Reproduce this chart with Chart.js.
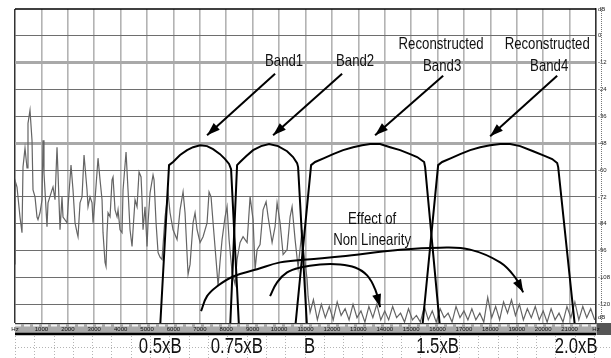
<!DOCTYPE html>
<html>
<head>
<meta charset="utf-8">
<script src="https://cdn.jsdelivr.net/npm/chart.js@4.4.1/dist/chart.umd.min.js"></script>
<style>
body { margin:0; background:#fff; }
canvas { display:block; }
</style>
</head>
<body>
<canvas id="spectrum" width="611" height="358"></canvas>
<script>
// measured spectrum (Hz / dB), low part of the trace
var signalHz = [0, 10, 76, 189, 265, 303, 379, 455, 492, 568, 644, 682, 758, 833, 871, 947, 1023, 1061, 1098, 1212,
	1250, 1402, 1439, 1515, 1591, 1629, 1705, 1780, 1818, 1970, 2008, 2121, 2197, 2273, 2349, 2386, 2462, 2538, 2614, 2727,
	2765, 2841, 2917, 2955, 3030, 3144, 3220, 3296, 3333, 3409, 3447, 3485, 3523, 3599, 3674, 3712, 3788, 3864, 3902, 3977,
	4053, 4091, 4205, 4280, 4356, 4432, 4470, 4545, 4621, 4697, 4773, 4811, 4848, 4924, 5000, 5038, 5114, 5227, 5265, 5341,
	5417, 5492, 5568, 5682, 5795, 5871, 5985, 6136, 6250, 6364, 6439, 6553, 6629, 6705, 6742, 6818, 6894, 7008, 7121, 7273,
	7348, 7424, 7500, 7652, 7689, 7765, 7841, 7955, 8030, 8106, 8220, 8333, 8409, 8523, 8636, 8712, 8788, 8902, 9015, 9091,
	9167, 9280, 9394, 9508, 9583, 9735, 9848, 9924, 10038, 10152, 10303, 10417, 10492, 10606, 10720, 10871, 10909, 11061, 11098, 11174];
var signalDb = [-102, -65, -67.6, -81, -88, -58.7, -50.2, -59.1, -39.1, -33.3, -46.7, -68.9, -72, -81, -82.2, -79.1, -73.3, -46.7, -61.3, -85.3,
	-74.7, -68.9, -67.6, -73.3, -49.8, -61.3, -86.7, -72, -81, -83.6, -76.4, -57.8, -68.9, -83.6, -88, -89.8, -74.7, -72, -53.3, -68.9,
	-76.4, -72, -74.7, -83.6, -73.3, -54.7, -64.4, -73.3, -88, -101.3, -103.1, -88, -79.1, -80.9, -64.4, -63.1, -77.8, -80.9, -77.8, -86.7,
	-88, -68.9, -52, -68.9, -86.7, -94.2, -86.7, -73.3, -76.4, -60.9, -63.1, -73.3, -86.7, -76.4, -94.2, -83.6, -70.2, -62.2, -64.4, -83.6,
	-96.9, -99, -100, -80.9, -70.2, -79.1, -86.7, -91.1, -77.8, -69.8, -79.1, -106.7, -102.2, -89.8, -83.6, -79.1, -86.7, -92.4, -89.8, -83.6,
	-69.8, -72, -83.6, -105.8, -112, -100.9, -91.1, -80.9, -76.4, -91.1, -105.8, -111, -100, -92.4, -89.8, -91.1, -92.4, -72, -82.2, -104.4,
	-95.6, -93.3, -77.8, -74.2, -80.9, -92.4, -85.3, -74.7, -83.6, -97.8, -95.6, -80.9, -76.4, -91.1, -103.6, -86.7, -94.2, -108.9, -116.4, -123.6];

// noise floor above B
var floorHz = [11300, 11450, 11600, 11750, 11900, 12050, 12200, 12350, 12500, 12650, 12800, 12950, 13100, 13250, 13400, 13550, 13700, 13850,
	14000, 14150, 14300, 14450, 14600, 14750, 14900, 15050, 15200, 15350, 15500, 15650, 15800, 15950, 16100, 16250, 16400, 16550, 16700,
	16850, 17000, 17150, 17300, 17450, 17600, 17750, 17900, 18050, 18200, 18350, 18500, 18650, 18800, 18950, 19100, 19250, 19400, 19550,
	19700, 19850, 20000, 20150, 20300, 20450, 20600, 20750, 20900, 21050, 21200, 21350, 21500, 21650, 21800, 21950];
var floorDb = [-118, -127, -120, -126, -121, -127, -119, -125, -122, -127, -120, -126, -123, -128, -121, -126, -120, -127,
	-123, -127, -121, -126, -124, -128, -122, -127, -125, -128, -121, -127, -123, -128, -122, -126, -124, -128, -121,
	-126, -123, -127, -122, -127, -124, -128, -117, -126, -121, -127, -119, -124, -118, -125, -120, -127, -122, -126,
	-121, -127, -123, -128, -122, -127, -124, -128, -121, -126, -119, -127, -121, -126, -122, -127];

// filter band outlines
var band1Hz = [5492, 5833, 5985, 6250, 6515, 6742, 7008, 7273, 7500, 7765, 7955, 8106, 8182, 8485];
var band1Db = [-131, -57.8, -56.4, -53.3, -51.1, -49.8, -48.9, -49.3, -50.7, -52.9, -55.1, -57.3, -59.6, -131];
var band2Hz = [8144, 8409, 8523, 8750, 9015, 9318, 9621, 9962, 10303, 10530, 10682, 10720, 11061];
var band2Db = [-131, -57.8, -56.4, -53.8, -51.1, -49.3, -48.4, -49.3, -51.6, -54.2, -56.9, -58.7, -131];
var band3Hz = [10606, 11212, 11364, 11705, 12045, 12424, 12803, 13144, 13447, 13826, 14205, 14583, 14962, 15227, 15492, 15530, 16098];
var band3Db = [-131, -57.8, -56.4, -54.7, -52.9, -51.1, -49.8, -48.9, -48.4, -48.4, -49.8, -51.1, -52.9, -54.2, -56.4, -58.7, -131];
var band4Hz = [15417, 16023, 16174, 16515, 16856, 17235, 17614, 17992, 18371, 18750, 19129, 19621, 20076, 20341, 20530, 20568, 21212];
var band4Db = [-131, -57.8, -56.4, -54.7, -52.9, -51.1, -49.8, -48.9, -48.4, -48.4, -49.3, -51.6, -53.8, -55.1, -56.9, -58.7, -131];

// pointer arrows to the bands
var pointerFromHz = [9848, 12386, 16212, 20530];
var pointerFromDb = [-16.9, -16.9, -17.8, -17.8];
var pointerToHz = [7273, 9773, 13636, 17992];
var pointerToDb = [-44.4, -44.4, -44.4, -44.9];

// "effect of non linearity" arrows
var curveAHz = [7045, 7273, 7652, 8258, 9167, 10038, 11061, 12311, 14583, 16098, 17235, 18371, 18939, 19242];
var curveADb = [-123.1, -116.4, -112, -107.6, -104.4, -101.3, -100, -98.7, -95.6, -94.7, -95.6, -101.3, -108, -114.7];
var curveBHz = [9659, 9924, 10303, 10795, 11553, 12311, 12879, 13333, 13636, 13826];
var curveBDb = [-116.4, -110.2, -105.8, -103.6, -102.2, -102.2, -103.6, -107.1, -113.3, -121.3];

// annotation texts
var noteText = ['Band1', 'Band2', 'Reconstructed', 'Band3', 'Reconstructed', 'Band4', 'Effect of', 'Non Linearity'];
var noteHz = [10189, 12879, 16136, 16174, 20152, 20227, 13523, 13523];
var noteDb = [-11.6, -11.6, -4, -13.8, -4, -13.8, -82.2, -91.6];

// multiples of B under the ruler
var multipleLabels = ['0.5xB', '0.75xB', 'B', '1.5xB', '2.0xB'];
var multipleHz = [5500, 8400, 11150, 16000, 21250];

// level ruler
var levelTicks = [12, 0, -12, -24, -36, -48, -60, -72, -84, -96, -108, -120, -126];

var FONT = '"Liberation Sans", Arial, sans-serif';

function pairs(xs, ys)
{
	var out = [];
	for (var i = 0; i < xs.length; i++) out.push({ x: xs[i], y: ys[i] });
	return out;
}

var datasets = [];

datasets.push({
	data: pairs(signalHz.concat(floorHz), signalDb.concat(floorDb)),
	borderColor: '#646464', borderWidth: 1.2, order: 10
});

[[band1Hz, band1Db], [band2Hz, band2Db], [band3Hz, band3Db], [band4Hz, band4Db]].forEach(function(b)
{
	datasets.push({ data: pairs(b[0], b[1]), borderColor: '#000', borderWidth: 2, order: 1 });
});

for (var i = 0; i < pointerFromHz.length; i++)
{
	datasets.push({
		data: [{ x: pointerFromHz[i], y: pointerFromDb[i] }, { x: pointerToHz[i], y: pointerToDb[i] }],
		borderColor: '#000', borderWidth: 2, order: 0, arrow: true
	});
}

datasets.push({ data: pairs(curveAHz, curveADb), borderColor: '#000', borderWidth: 2, tension: 0.4, order: 0, arrow: true });
datasets.push({ data: pairs(curveBHz, curveBDb), borderColor: '#000', borderWidth: 2, tension: 0.4, order: 0, arrow: true });

function arrowHead(ctx, tx, ty, fx, fy, len, wid)
{
	var a = Math.atan2(ty - fy, tx - fx);
	var bx = tx - len * Math.cos(a), by = ty - len * Math.sin(a);
	ctx.beginPath();
	ctx.moveTo(tx, ty);
	ctx.lineTo(bx - wid / 2 * Math.sin(a), by + wid / 2 * Math.cos(a));
	ctx.lineTo(bx + wid / 2 * Math.sin(a), by - wid / 2 * Math.cos(a));
	ctx.closePath();
	ctx.fill();
}

// narrow text: the scan uses a condensed face, so squeeze a regular one
function narrowText(ctx, text, x, y, size, squeeze)
{
	ctx.save();
	ctx.translate(x, y);
	ctx.scale(squeeze, 1);
	ctx.font = size + 'px ' + FONT;
	ctx.textAlign = 'center';
	ctx.textBaseline = 'middle';
	ctx.fillText(text, 0, 0);
	ctx.restore();
}

var decor = {
	id: 'decor',
	beforeDraw: function(chart)
	{
		var ctx = chart.ctx, a = chart.chartArea, sx = chart.scales.x;
		ctx.save();
		ctx.fillStyle = '#fff';
		ctx.fillRect(0, 0, chart.width, chart.height);

		// frequency ruler strip
		ctx.fillStyle = '#a9a9a9';
		ctx.fillRect(a.left, sx.top, chart.width - a.left, sx.bottom - sx.top);
		ctx.strokeStyle = '#f4f4f4';
		ctx.lineWidth = 2;
		ctx.setLineDash([6, 3]);
		ctx.beginPath();
		ctx.moveTo(a.left, sx.top + 2.5);
		ctx.lineTo(a.right, sx.top + 2.5);
		ctx.stroke();
		ctx.setLineDash([]);
		ctx.fillStyle = '#555';
		ctx.fillRect(a.right + 1, sx.top, chart.width - a.right, sx.bottom - sx.top);

		// dotted table lines under the plot
		ctx.strokeStyle = '#b4b4b4';
		ctx.lineWidth = 1;
		ctx.setLineDash([1, 2]);
		ctx.beginPath();
		for (var x = a.left; x < chart.width; x += 19.3)
		{
			ctx.moveTo(Math.round(x) + 0.5, sx.bottom + 1);
			ctx.lineTo(Math.round(x) + 0.5, chart.height);
		}
		ctx.moveTo(a.left, 347.5);
		ctx.lineTo(chart.width, 347.5);
		ctx.stroke();
		ctx.restore();
	},
	afterDatasetsDraw: function(chart)
	{
		var ctx = chart.ctx, a = chart.chartArea, sx = chart.scales.x, sy = chart.scales.y;
		ctx.save();

		// arrow heads
		ctx.fillStyle = '#000';
		chart.data.datasets.forEach(function(ds, di)
		{
			if (!ds.arrow) return;
			var pts = chart.getDatasetMeta(di).data;
			var tip = pts[pts.length - 1], prev = pts[pts.length - 2];
			var fx = prev.x, fy = prev.y;
			if (ds.tension && tip.cp1x !== undefined && (tip.cp1x !== tip.x || tip.cp1y !== tip.y))
			{
				fx = tip.cp1x; fy = tip.cp1y;
			}
			arrowHead(ctx, tip.x, tip.y, fx, fy, 13, 9);
		});

		// notes
		ctx.fillStyle = '#111';
		for (var i = 0; i < noteText.length; i++)
		{
			narrowText(ctx, noteText[i], sx.getPixelForValue(noteHz[i]), sy.getPixelForValue(noteDb[i]), 16.5, 0.8);
		}

		// multiples of B below the ruler
		for (var j = 0; j < multipleLabels.length; j++)
		{
			narrowText(ctx, multipleLabels[j], sx.getPixelForValue(multipleHz[j]), sx.bottom + 12, 22, 0.76);
		}

		// frame
		ctx.strokeStyle = '#000';
		ctx.lineWidth = 1.5;
		ctx.beginPath();
		ctx.moveTo(a.left, a.top);
		ctx.lineTo(a.right, a.top);
		ctx.stroke();
		ctx.lineWidth = 2.5;
		ctx.beginPath();
		ctx.moveTo(a.left, sx.bottom - 1);
		ctx.lineTo(a.right, sx.bottom - 1);
		ctx.stroke();
		ctx.strokeStyle = '#777';
		ctx.lineWidth = 1;
		ctx.setLineDash([1, 1]);
		ctx.beginPath();
		ctx.moveTo(a.right + 5.5, a.top);
		ctx.lineTo(a.right + 5.5, a.bottom);
		ctx.stroke();
		ctx.restore();
	}
};

new Chart(document.getElementById('spectrum'), {
	type: 'line',
	data: { datasets: datasets },
	options: {
		responsive: false,
		animation: false,
		layout: { padding: { left: 15, top: 9, right: 0, bottom: 23 } },
		elements: { point: { radius: 0 }, line: { tension: 0 } },
		plugins: { legend: { display: false }, tooltip: { enabled: false } },
		scales: {
			x: {
				type: 'linear', position: 'bottom', min: 0, max: 22000,
				afterBuildTicks: function(s)
				{
					var t = [];
					for (var v = 0; v <= 22000; v += 1000) t.push({ value: v });
					s.ticks = t;
				},
				afterFit: function(s) { s.height = 12; },
				grid: {
					drawTicks: false,
					color: function(c) { return c.index === 0 ? '#333' : '#b3b3b3'; },
					lineWidth: function(c) { return c.index === 0 ? 1.5 : 1.6; }
				},
				border: { color: '#333', width: 1 },
				ticks: {
					autoSkip: false, maxRotation: 0, padding: 3, color: '#111',
					font: { family: FONT, size: 6 },
					callback: function(v) { return (v === 0 || v === 22000) ? 'Hz' : String(v); }
				}
			},
			y: {
				type: 'linear', position: 'right', min: -128.4, max: 12,
				afterBuildTicks: function(s)
				{
					s.ticks = levelTicks.map(function(v) { return { value: v }; });
				},
				afterFit: function(s) { s.width = 15; },
				grid: {
					drawTicks: false,
					color: function(c)
					{
						var v = c.tick && c.tick.value;
						if (v === 12 || v === -126) return 'rgba(0,0,0,0)';
						return (v === -12 || v === -48) ? '#a9a9a9' : '#6e6e6e';
					},
					lineWidth: function(c)
					{
						var v = c.tick && c.tick.value;
						return (v === -12 || v === -48) ? 3 : 1;
					}
				},
				border: { color: '#333', width: 1.5 },
				ticks: {
					padding: 2, color: '#222',
					font: { family: FONT, size: 6 },
					callback: function(v) { return (v === 12 || v === -126) ? 'dB' : String(v); }
				}
			}
		}
	},
	plugins: [decor]
});
</script>
</body>
</html>
